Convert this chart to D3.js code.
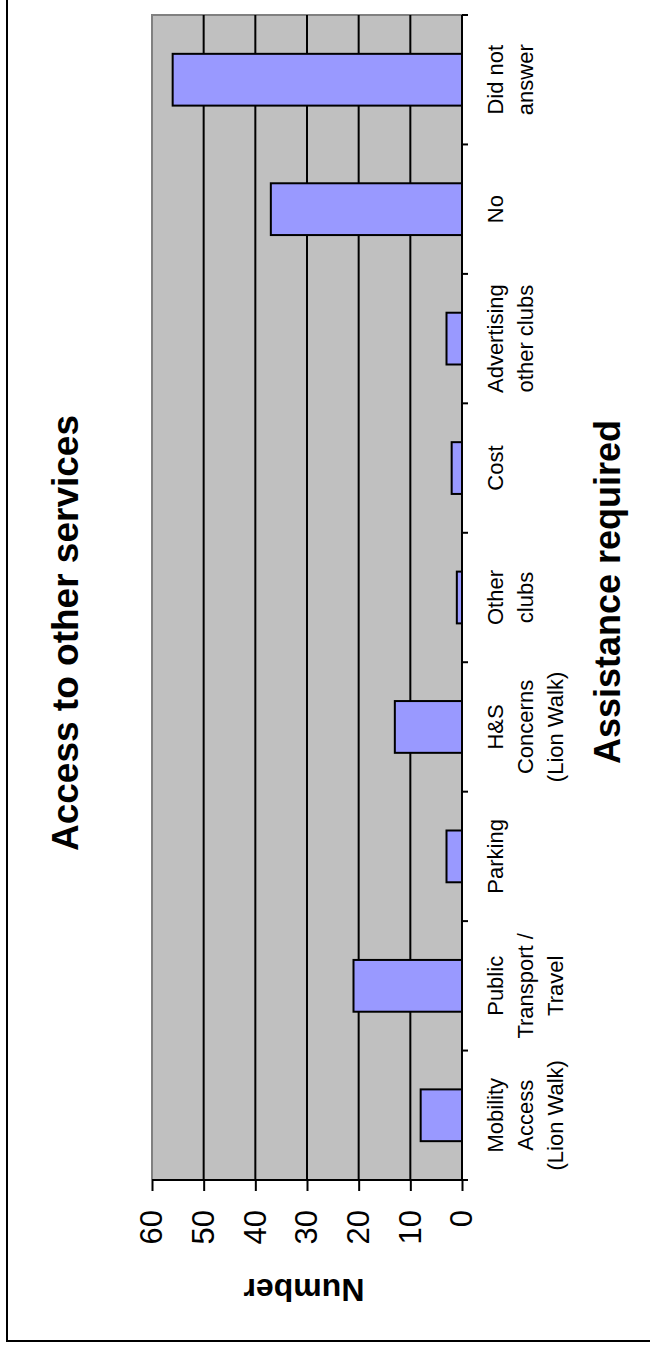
<!DOCTYPE html>
<html>
<head>
<meta charset="utf-8">
<script src="https://cdn.jsdelivr.net/npm/d3@7"></script>
<style>
  html, body { margin: 0; padding: 0; background: #fff; }
  svg { display: block; }
  text { font-family: "Liberation Sans", Arial, sans-serif; fill: #000; }
</style>
</head>
<body>
<div id="chart"></div>
<script>
// Survey responses: assistance required to access other services
const categories = [
  "Mobility Access (Lion Walk)",
  "Public Transport / Travel",
  "Parking",
  "H&S Concerns (Lion Walk)",
  "Other clubs",
  "Cost",
  "Advertising other clubs",
  "No",
  "Did not answer"
];
const categoryLines = [
  ["Mobility", "Access", "(Lion Walk)"],
  ["Public", "Transport /", "Travel"],
  ["Parking"],
  ["H&S", "Concerns", "(Lion Walk)"],
  ["Other", "clubs"],
  ["Cost"],
  ["Advertising", "other clubs"],
  ["No"],
  ["Did not", "answer"]
];
const counts = [8, 21, 3, 13, 1, 2, 3, 37, 56];
const valueTicks = [0, 10, 20, 30, 40, 50, 60];

const pageW = 650, pageH = 1349;

const svg = d3.select("#chart").append("svg")
  .attr("width", pageW)
  .attr("height", pageH);

// The whole column chart is laid out landscape and turned a quarter turn
const g = svg.append("g")
  .attr("transform", `translate(0,${pageH}) rotate(-90)`);

// outer frame
g.append("rect")
  .attr("x", 8).attr("y", 7)
  .attr("width", 1400).attr("height", 700)
  .attr("fill", "none").attr("stroke", "#000").attr("stroke-width", 2);

const plot = { left: 169, right: 1334, top: 152, bottom: 462 };

const x = d3.scaleBand()
  .domain(categories)
  .range([plot.left, plot.right])
  .paddingInner(0.6)
  .paddingOuter(0.3);

const y = d3.scaleLinear()
  .domain([0, 60])
  .range([plot.bottom, plot.top]);

// plot background
g.append("rect")
  .attr("x", plot.left).attr("y", plot.top)
  .attr("width", plot.right - plot.left).attr("height", plot.bottom - plot.top)
  .attr("fill", "#c0c0c0");

// top and right edges of plot area
g.append("path")
  .attr("d", `M${plot.left},${plot.top}H${plot.right}V${plot.bottom}`)
  .attr("fill", "none").attr("stroke", "#808080").attr("stroke-width", 2);

// gridlines
g.append("g").selectAll("line")
  .data(valueTicks.filter(v => v > 0 && v < 60))
  .join("line")
  .attr("x1", plot.left).attr("x2", plot.right)
  .attr("y1", d => y(d)).attr("y2", d => y(d))
  .attr("stroke", "#000").attr("stroke-width", 2);

// bars
g.append("g").selectAll("rect")
  .data(counts)
  .join("rect")
  .attr("x", (d, i) => x(categories[i]))
  .attr("width", x.bandwidth())
  .attr("y", d => y(d))
  .attr("height", d => y(0) - y(d))
  .attr("fill", "#9999ff")
  .attr("stroke", "#000").attr("stroke-width", 2);

// value axis
const yAxis = g.append("g")
  .attr("transform", `translate(${plot.left},0)`)
  .call(d3.axisLeft(y).tickValues(valueTicks).tickSize(11).tickPadding(19));
yAxis.select(".domain").attr("stroke", "#000").attr("stroke-width", 2)
  .attr("d", `M0,${plot.bottom + 6}V${plot.top}`);
yAxis.selectAll(".tick line").attr("stroke", "#000").attr("stroke-width", 2);
yAxis.selectAll(".tick text")
  .style("font-family", '"Liberation Sans", Arial, sans-serif')
  .style("font-size", "31px")
  .attr("fill", "#000");

// category axis
const bandEdges = d3.range(categories.length + 1).map(i => plot.left + i * x.step());
const xAxis = g.append("g");
xAxis.append("line")
  .attr("x1", plot.left).attr("x2", plot.right)
  .attr("y1", plot.bottom).attr("y2", plot.bottom)
  .attr("stroke", "#000").attr("stroke-width", 2);
xAxis.selectAll("line.tick")
  .data(bandEdges)
  .join("line")
  .attr("class", "tick")
  .attr("x1", d => d).attr("x2", d => d)
  .attr("y1", plot.bottom).attr("y2", plot.bottom + 6)
  .attr("stroke", "#000").attr("stroke-width", 2);

const labels = xAxis.selectAll("text.cat")
  .data(categoryLines)
  .join("text")
  .attr("class", "cat")
  .attr("text-anchor", "middle")
  .style("font-size", "22px")
  .attr("transform", (d, i) => `translate(${x(categories[i]) + x.bandwidth() / 2},503)`);
labels.selectAll("tspan")
  .data(d => d)
  .join("tspan")
  .attr("x", 0)
  .attr("y", (d, i) => i * 30)
  .text(d => d);

// titles
g.append("text")
  .attr("x", 716).attr("y", 78)
  .attr("text-anchor", "middle")
  .style("font-size", "37px").style("font-weight", "bold")
  .text("Access to other services");

g.append("text")
  .attr("x", 757).attr("y", 620)
  .attr("text-anchor", "middle")
  .style("font-size", "36px").style("font-weight", "bold")
  .text("Assistance required");

g.append("text")
  .attr("transform", "translate(70,304) rotate(-90)")
  .attr("text-anchor", "middle")
  .style("font-size", "32px").style("font-weight", "bold")
  .text("Number");
</script>
</body>
</html>
